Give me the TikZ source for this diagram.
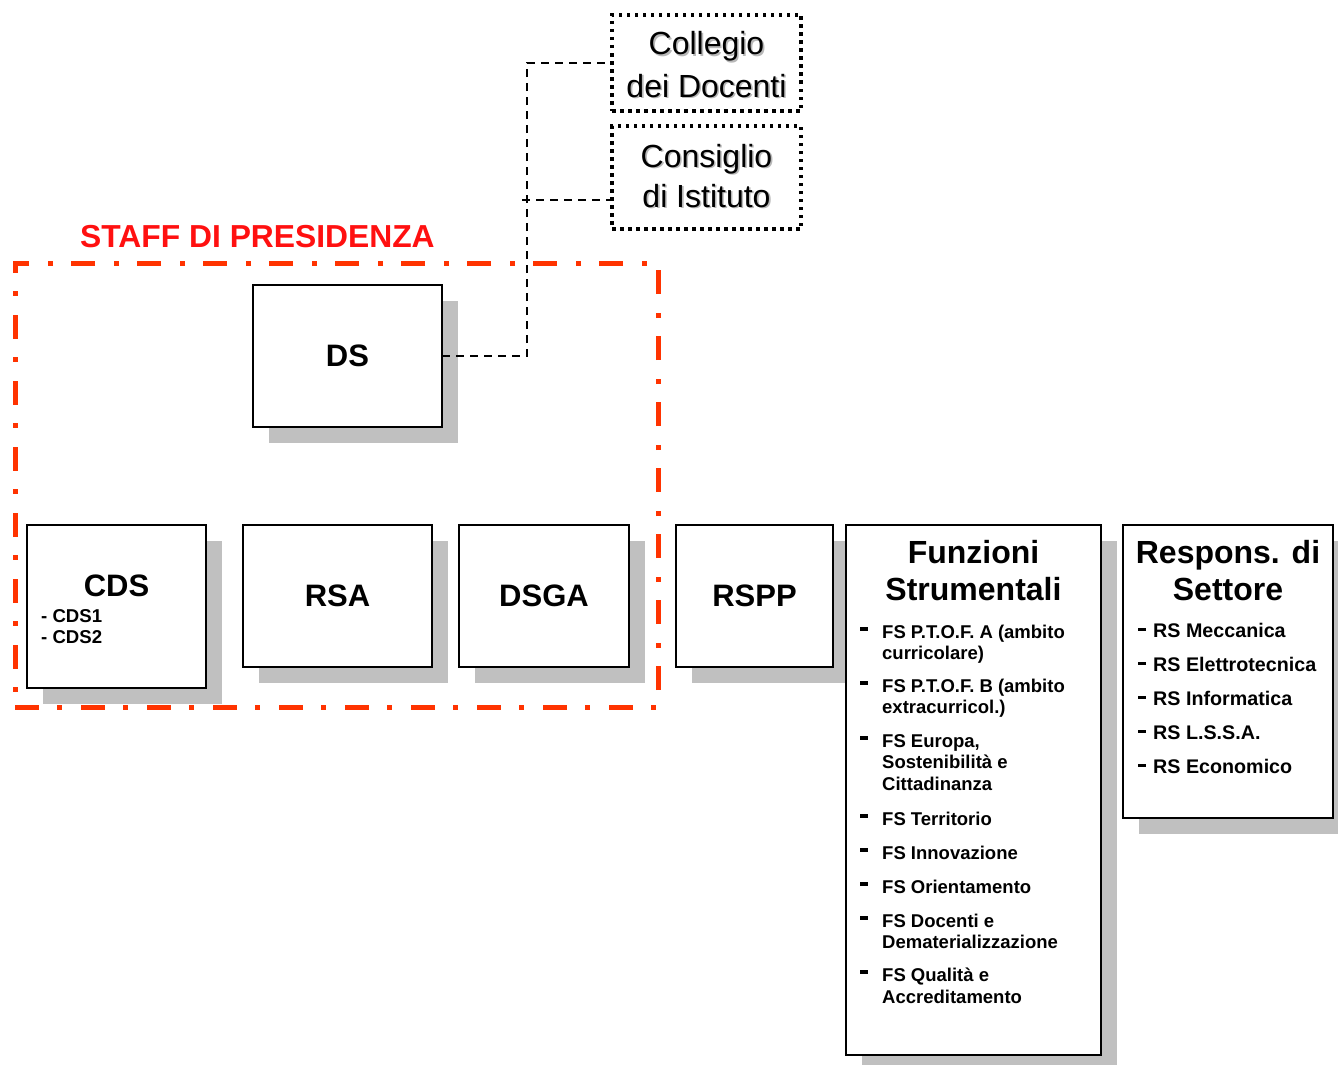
\documentclass[tikz,border=0pt]{standalone}
\usepackage{fontspec}
\setmainfont{Liberation Sans}
\usetikzlibrary{shadows,calc}
\definecolor{shd}{RGB}{192,192,192}
\definecolor{staffred}{RGB}{255,51,0}
\definecolor{titlered}{RGB}{255,16,16}
\newcommand\blt[2]{\makebox[#1][l]{\raisebox{#2}{\rule{8pt}{3.2pt}}}}
\newcommand\shtext[1]{\makebox[0pt][l]{\hspace{1.6pt}\raisebox{-1.6pt}{\color{black!28}#1}}#1}
\begin{document}
\begin{tikzpicture}[x=1pt,y=-1pt,
  box/.style={draw=black, line width=2.5pt, fill=white, rectangle, anchor=north west,
    inner sep=0pt, outer sep=0pt,
    drop shadow={shadow xshift=16pt, shadow yshift=-16pt, opacity=1, fill=shd}},
  big/.style={font=\fontsize{31}{31}\selectfont\bfseries},
  dotbox/.style={draw=black, line width=3.5pt, dash pattern=on 3.5pt off 4.5pt, rectangle,
    anchor=north west, inner sep=0pt, outer sep=0pt},
  reg/.style={font=\fontsize{32}{32}\selectfont, anchor=base, inner sep=0pt},
  ttl/.style={font=\fontsize{32}{32}\selectfont\bfseries, anchor=base, inner sep=0pt},
  fsi/.style={font=\fontsize{18.5}{21}\selectfont\bfseries, anchor=base west, inner sep=0pt},
  rsi/.style={font=\fontsize{19.7}{21}\selectfont\bfseries, anchor=base west, inner sep=0pt},
  cdsi/.style={font=\fontsize{18.6}{21}\selectfont\bfseries, anchor=base west, inner sep=0pt},
  conn/.style={draw=black, line width=1.5pt, dash pattern=on 8pt off 6pt},
  staffframe/.style={draw=staffred, line width=5pt, dash pattern=on 24pt off 18pt on 5pt off 19pt,
    rectangle, anchor=north west, inner sep=0pt, outer sep=0pt}
]
\useasboundingbox (0,0) rectangle (1338,1065);

% upper dotted boxes
\node[dotbox, minimum width=189pt, minimum height=96pt] (collegio) at (612,15) {};
\node[dotbox, minimum width=189pt, minimum height=103pt] (consiglio) at (612,126) {};
\node[reg] (colA) at (706.5,55) {\shtext{Collegio}};
\node[reg] (colB) at (706.5,97) {\shtext{dei Docenti}};
\node[reg] (conA) at (706.5,167) {\shtext{Consiglio}};
\node[reg] (conB) at (706.5,207) {\shtext{di Istituto}};

% boxes
\node[box, big, minimum width=189pt, minimum height=142pt] (ds) at (253,285) {DS};
\node[box, minimum width=179pt, minimum height=163pt] (cds) at (27,525) {};
\node[box, big, minimum width=189pt, minimum height=142pt] (rsa) at (243,525) {RSA};
\node[box, big, minimum width=170pt, minimum height=142pt] (dsga) at (459,525) {DSGA};
\node[box, big, minimum width=157pt, minimum height=142pt] (rspp) at (676,525) {RSPP};
\node[box, minimum width=255pt, minimum height=530pt] (fun) at (846,525) {};
\node[box, minimum width=210pt, minimum height=293pt] (rs) at (1123,525) {};

% CDS text
\node[big, anchor=base, inner sep=0pt] (cdsT) at (116.5,596) {CDS};
\node[cdsi] (cds1) at (41,622) {- CDS1};
\node[cdsi] (cds2) at (41,643) {- CDS2};

% connectors
\coordinate (cbr) at (522,200);
\draw[conn] (ds.east) -| ($(collegio.west)+(-85,0)$) -- (collegio.west);
\draw[conn] (cbr) -- (cbr -| consiglio.west);

% Funzioni Strumentali
\node[ttl] (funA) at (973.5,563) {Funzioni};
\node[ttl] (funB) at (973.5,600) {Strumentali};
\node[fsi] (f1a) at (860,638) {\blt{22pt}{7.5pt}FS P.T.O.F. A (ambito};
\node[fsi] (f1b) at (882,659) {curricolare)};
\node[fsi] (f2a) at (860,692) {\blt{22pt}{7.5pt}FS P.T.O.F. B (ambito};
\node[fsi] (f2b) at (882,713) {extracurricol.)};
\node[fsi] (f3a) at (860,747) {\blt{22pt}{7.5pt}FS Europa,};
\node[fsi] (f3b) at (882,768.5) {Sostenibilità e};
\node[fsi] (f3c) at (882,790) {Cittadinanza};
\node[fsi] (f4) at (860,825) {\blt{22pt}{7.5pt}FS Territorio};
\node[fsi] (f5) at (860,859) {\blt{22pt}{7.5pt}FS Innovazione};
\node[fsi] (f6) at (860,893) {\blt{22pt}{7.5pt}FS Orientamento};
\node[fsi] (f7a) at (860,927) {\blt{22pt}{7.5pt}FS Docenti e};
\node[fsi] (f7b) at (882,948) {Dematerializzazione};
\node[fsi] (f8a) at (860,981) {\blt{22pt}{7.5pt}FS Qualità e};
\node[fsi] (f8b) at (882,1003) {Accreditamento};

% Responsabili di Settore
\node[ttl] (rsA) at (1228,563) {Respons. di};
\node[ttl] (rsB) at (1228,600) {Settore};
\node[rsi] (r1) at (1138,637) {\blt{15pt}{6.2pt}RS Meccanica};
\node[rsi] (r2) at (1138,671) {\blt{15pt}{6.2pt}RS Elettrotecnica};
\node[rsi] (r3) at (1138,705) {\blt{15pt}{6.2pt}RS Informatica};
\node[rsi] (r4) at (1138,739) {\blt{15pt}{6.2pt}RS L.S.S.A.};
\node[rsi] (r5) at (1138,773) {\blt{15pt}{6.2pt}RS Economico};

% staff frame
\node[staffframe, minimum width=643pt, minimum height=444pt] (staff) at (15,263) {};
\node[font=\fontsize{31.8}{32}\selectfont\bfseries, text=titlered, anchor=base west, inner sep=0pt] (staffT) at (80,247) {STAFF DI PRESIDENZA};
\end{tikzpicture}
\end{document}
